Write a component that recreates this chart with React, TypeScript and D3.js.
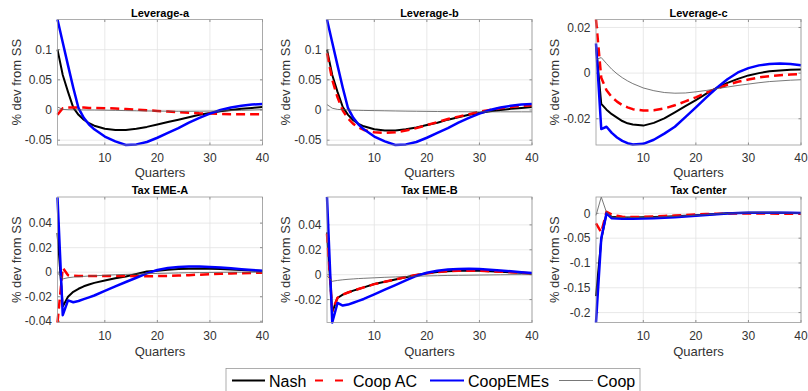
import React from "react";
import * as d3 from "d3";

const quarters = [1, 2, 3, 4, 5, 6, 7, 8, 10, 12, 14, 16, 18, 20, 22, 24, 26, 28, 30, 32, 34, 36, 38, 40];
const xTicks = [10, 20, 30, 40];
const seriesNames = ["Nash", "Coop AC", "CoopEMEs", "Coop"];
const panelTitles = ["Leverage-a", "Leverage-b", "Leverage-c", "Tax EME-A", "Tax EME-B", "Tax Center"];

// Leverage-a
const levANash = [0.100, 0.058, 0.030, 0.004, -0.008, -0.016, -0.022, -0.026, -0.031, -0.033, -0.033, -0.031, -0.028, -0.024, -0.020, -0.016, -0.012, -0.008, -0.005, -0.002, 0.000, 0.002, 0.0035, 0.005];
const levACoopAC = [-0.008, 0.003, 0.004, 0.004, 0.004, 0.004, 0.0035, 0.0035, 0.003, 0.0025, 0.0015, 0.0005, -0.0005, -0.0015, -0.0025, -0.0035, -0.0045, -0.0055, -0.006, -0.0065, -0.007, -0.007, -0.007, -0.007];
const levACoopEMEs = [0.150, 0.112, 0.074, 0.037, 0.003, -0.013, -0.024, -0.032, -0.044, -0.052, -0.058, -0.057, -0.053, -0.046, -0.038, -0.030, -0.021, -0.013, -0.006, 0.000, 0.004, 0.007, 0.009, 0.010];
const levACoop = [0.005, 0.001, 0.0005, 0.0003, 0.0002, 0.0001, 0, 0, -0.0003, -0.0006, -0.001, -0.0013, -0.0016, -0.0018, -0.002, -0.0021, -0.0021, -0.002, -0.0018, -0.0015, -0.001, -0.0005, 0.0, 0.0005];

// Leverage-b
const levBNash = [0.100, 0.058, 0.030, 0.005, -0.008, -0.017, -0.023, -0.027, -0.032, -0.034, -0.034, -0.032, -0.029, -0.025, -0.021, -0.016, -0.012, -0.008, -0.005, -0.002, 0.000, 0.002, 0.0035, 0.005];
const levBCoopAC = [0.094, 0.050, 0.021, -0.001, -0.014, -0.023, -0.029, -0.033, -0.037, -0.038, -0.037, -0.034, -0.030, -0.025, -0.020, -0.015, -0.011, -0.007, -0.003, 0.000, 0.003, 0.005, 0.007, 0.008];
const levBCoopEMEs = [0.150, 0.112, 0.074, 0.037, 0.003, -0.013, -0.024, -0.032, -0.044, -0.052, -0.058, -0.057, -0.053, -0.046, -0.038, -0.030, -0.021, -0.013, -0.006, 0.000, 0.004, 0.007, 0.009, 0.010];
const levBCoop = [0.009, 0.003, 0.001, 0.0005, 0, -0.0003, -0.0005, -0.0007, -0.001, -0.0013, -0.0016, -0.0019, -0.0021, -0.0023, -0.0025, -0.0027, -0.0028, -0.0029, -0.003, -0.003, -0.003, -0.003, -0.003, -0.003];

// Leverage-c
const levCNash = [0.012, -0.0135, -0.016, -0.018, -0.0195, -0.021, -0.022, -0.0225, -0.023, -0.0218, -0.0198, -0.0172, -0.0145, -0.0118, -0.009, -0.0065, -0.0043, -0.0025, -0.001, 0.0, 0.0008, 0.0012, 0.0015, 0.0016];
const levCCoopAC = [0.0235, -0.002, -0.0075, -0.0105, -0.0125, -0.014, -0.015, -0.0158, -0.0164, -0.0163, -0.0155, -0.0141, -0.0124, -0.0106, -0.0086, -0.0067, -0.0051, -0.0038, -0.0028, -0.0019, -0.0013, -0.0009, -0.0006, -0.0005];
const levCCoopEMEs = [0.013, -0.0245, -0.0235, -0.0262, -0.0282, -0.0297, -0.0307, -0.0313, -0.031, -0.0292, -0.0265, -0.0235, -0.0193, -0.015, -0.0106, -0.0064, -0.0027, 0.0003, 0.0022, 0.0034, 0.004, 0.0042, 0.004, 0.0035];
const levCCoop = [0.006, 0.0068, 0.0042, 0.0017, -0.0003, -0.002, -0.0034, -0.0046, -0.0065, -0.0077, -0.0085, -0.0088, -0.0087, -0.0082, -0.0076, -0.0068, -0.0061, -0.0054, -0.0048, -0.0042, -0.0037, -0.0034, -0.0031, -0.0029];

// Tax EME-A
const taxANash = [0.032, -0.028, -0.020, -0.016, -0.0135, -0.0115, -0.010, -0.0087, -0.0068, -0.005, -0.0035, -0.0015, 0.0005, 0.0012, 0.002, 0.0026, 0.0029, 0.003, 0.0029, 0.0026, 0.0022, 0.0018, 0.0014, 0.001];
const taxACoopAC = [-0.041, 0.0035, -0.0025, -0.0028, -0.003, -0.003, -0.003, -0.003, -0.003, -0.003, -0.003, -0.0032, -0.0033, -0.0032, -0.003, -0.0027, -0.0024, -0.002, -0.0017, -0.0013, -0.001, -0.0008, -0.0006, -0.0004];
const taxACoopEMEs = [0.061, -0.035, -0.023, -0.0245, -0.0235, -0.022, -0.0205, -0.019, -0.0152, -0.0115, -0.008, -0.0045, -0.001, 0.0018, 0.0034, 0.0042, 0.0046, 0.0046, 0.0043, 0.0038, 0.0032, 0.0025, 0.0018, 0.0012];
const taxACoop = [-0.0005, -0.0055, -0.0045, -0.004, -0.0037, -0.0034, -0.0031, -0.0029, -0.0025, -0.0021, -0.0018, -0.0015, -0.0012, -0.001, -0.0008, -0.0006, -0.0004, -0.0003, -0.0002, -0.0001, 0, 0, 0, 0];

// Tax EME-B
const taxBNash = [0.034, -0.030, -0.0187, -0.016, -0.0143, -0.0128, -0.0115, -0.0102, -0.0075, -0.0056, -0.0038, -0.002, -0.0003, 0.0012, 0.0022, 0.0028, 0.0031, 0.0032, 0.0031, 0.0028, 0.0024, 0.002, 0.0015, 0.001];
const taxBCoopAC = [0.033, -0.029, -0.0185, -0.016, -0.0143, -0.0128, -0.0115, -0.0102, -0.0076, -0.0057, -0.0038, -0.0019, -0.0002, 0.0012, 0.0022, 0.0028, 0.0031, 0.0032, 0.0031, 0.0028, 0.0024, 0.002, 0.0015, 0.001];
const taxBCoopEMEs = [0.0624, -0.0384, -0.0227, -0.0248, -0.024, -0.0225, -0.021, -0.0195, -0.0158, -0.012, -0.0083, -0.0046, -0.001, 0.0016, 0.0032, 0.0041, 0.0046, 0.0047, 0.0045, 0.004, 0.0034, 0.0027, 0.002, 0.0013];
const taxBCoop = [-0.001, -0.0053, -0.0046, -0.0041, -0.0037, -0.0034, -0.0031, -0.0029, -0.0025, -0.0021, -0.0018, -0.0015, -0.0012, -0.001, -0.0008, -0.0006, -0.0005, -0.0004, -0.0003, -0.0002, -0.0001, 0, 0, 0];

// Tax Center
const taxCNash = [-0.167, -0.053, 0.0, -0.007, -0.008, -0.0085, -0.0085, -0.0083, -0.008, -0.0075, -0.0068, -0.006, -0.005, -0.0038, -0.0025, -0.0012, 0.0, 0.0008, 0.0012, 0.0013, 0.0012, 0.001, 0.0008, 0.0006];
const taxCCoopAC = [-0.020, -0.038, 0.003, -0.002, -0.005, -0.007, -0.0075, -0.0075, -0.007, -0.0062, -0.0053, -0.0043, -0.0033, -0.0022, -0.0013, -0.0007, -0.0004, -0.0003, -0.0003, -0.0004, -0.0005, -0.0006, -0.0006, -0.0006];
const taxCCoopEMEs = [-0.22, -0.050, 0.0, -0.010, -0.0105, -0.011, -0.011, -0.0108, -0.0103, -0.0096, -0.0087, -0.0076, -0.0063, -0.0048, -0.0032, -0.0017, -0.0004, 0.0006, 0.0012, 0.0014, 0.0014, 0.0012, 0.001, 0.0008];
const taxCCoop = [-0.004, 0.033, 0.002, -0.007, -0.008, -0.0085, -0.0085, -0.0083, -0.008, -0.0075, -0.0068, -0.006, -0.005, -0.0038, -0.0025, -0.0012, 0.0, 0.0008, 0.0012, 0.0013, 0.0012, 0.001, 0.0008, 0.0006];

const yDomains = [
  [-0.058, 0.15],
  [-0.058, 0.15],
  [-0.0315, 0.0235],
  [-0.041, 0.0613],
  [-0.0384, 0.0624],
  [-0.22, 0.033],
];
const yTicks = [
  [-0.05, 0, 0.05, 0.1],
  [-0.05, 0, 0.05, 0.1],
  [-0.02, 0, 0.02],
  [-0.04, -0.02, 0, 0.02, 0.04],
  [-0.02, 0, 0.02, 0.04],
  [-0.2, -0.15, -0.1, -0.05, 0],
];

const panelSeries = [
  [levANash, levACoopAC, levACoopEMEs, levACoop],
  [levBNash, levBCoopAC, levBCoopEMEs, levBCoop],
  [levCNash, levCCoopAC, levCCoopEMEs, levCCoop],
  [taxANash, taxACoopAC, taxACoopEMEs, taxACoop],
  [taxBNash, taxBCoopAC, taxBCoopEMEs, taxBCoop],
  [taxCNash, taxCCoopAC, taxCCoopEMEs, taxCCoop],
];

const W = 808;
const H = 391;
const colLefts = [57.5, 327, 596];
const rowTops = [19.5, 197];
const plotW = 205;
const plotH = 125.5;
const FONT = "'Liberation Sans', Arial, Helvetica, sans-serif";

const styles = [
  { stroke: "#000000", width: 2, dash: undefined },
  { stroke: "#ff0000", width: 2.5, dash: "9,5" },
  { stroke: "#0000ff", width: 2.5, dash: undefined },
  { stroke: "#555555", width: 0.8, dash: undefined },
];
const drawOrder = [0, 1, 2, 3];

function fmt(v: number) {
  if (v === 0) return "0";
  return String(v);
}

function Panel({ idx }: { idx: number }) {
  const col = idx % 3;
  const row = Math.floor(idx / 3);
  const left = colLefts[col];
  const top = rowTops[row];
  const x = d3.scaleLinear().domain([1, 40]).range([left, left + plotW]);
  const y = d3.scaleLinear().domain(yDomains[idx]).range([top + plotH, top]);
  const line = d3
    .line<number>()
    .x((_, i) => x(quarters[i]))
    .y((d) => y(d));
  const series = panelSeries[idx];
  const clipId = `clip-${idx}`;
  return (
    <g>
      <defs>
        <clipPath id={clipId}>
          <rect x={left - 2} y={top - 2} width={plotW + 4} height={plotH + 4} />
        </clipPath>
      </defs>
      <rect x={left} y={top} width={plotW} height={plotH} fill="#ffffff" />
      {xTicks.map((t) => (
        <line key={"gx" + t} x1={x(t)} x2={x(t)} y1={top} y2={top + plotH} stroke="#e3e3e3" strokeWidth={0.8} />
      ))}
      {yTicks[idx].map((t) => (
        <line key={"gy" + t} x1={left} x2={left + plotW} y1={y(t)} y2={y(t)} stroke="#e3e3e3" strokeWidth={0.8} />
      ))}
      {xTicks.map((t) => (
        <g key={"tx" + t}>
          <line x1={x(t)} x2={x(t)} y1={top + plotH} y2={top + plotH - 2.5} stroke="#777" strokeWidth={0.8} />
          <line x1={x(t)} x2={x(t)} y1={top} y2={top + 2.5} stroke="#777" strokeWidth={0.8} />
          <text x={x(t)} y={row === 0 ? 161.5 : 339.5} textAnchor="middle" fontSize={12} fill="#333" fontFamily={FONT}>
            {t}
          </text>
        </g>
      ))}
      {yTicks[idx].map((t) => (
        <g key={"ty" + t}>
          <line x1={left} x2={left + 2.5} y1={y(t)} y2={y(t)} stroke="#777" strokeWidth={0.8} />
          <line x1={left + plotW} x2={left + plotW - 2.5} y1={y(t)} y2={y(t)} stroke="#777" strokeWidth={0.8} />
          <text x={left - 5.5} y={y(t)} dy="0.35em" textAnchor="end" fontSize={12} fill="#333" fontFamily={FONT}>
            {fmt(t)}
          </text>
        </g>
      ))}
      <g clipPath={`url(#${clipId})`}>
        {drawOrder.map((s) => (
          <path
            key={"s" + s}
            d={line(series[s]) || ""}
            fill="none"
            stroke={styles[s].stroke}
            strokeWidth={styles[s].width}
            strokeDasharray={styles[s].dash}
            strokeLinejoin="round"
          />
        ))}
      </g>
      <rect x={left} y={top} width={plotW} height={plotH} fill="none" stroke="#9a9a9a" strokeWidth={0.8} />
      <text x={left + plotW / 2} y={row === 0 ? 17 : 193.5} textAnchor="middle" fontSize={11} fontWeight="bold" fill="#000" fontFamily={FONT}>
        {panelTitles[idx]}
      </text>
      <text x={left + plotW / 2} y={row === 0 ? 177 : 355.5} textAnchor="middle" fontSize={13} fill="#333" fontFamily={FONT}>
        Quarters
      </text>
      <text
        transform={`translate(${left - 37},${top + plotH / 2}) rotate(-90)`}
        textAnchor="middle"
        fontSize={13}
        fill="#333"
        fontFamily={FONT}
      >
        % dev from SS
      </text>
    </g>
  );
}

const legendLayout = [
  { x1: 232, x2: 265, tx: 269 },
  { x1: 315, x2: 343, tx: 353 },
  { x1: 430, x2: 464, tx: 468 },
  { x1: 559, x2: 593, tx: 597 },
];

export default function App() {
  return (
    <svg
      width={W}
      height={H}
      viewBox={`0 0 ${W} ${H}`}
      style={{ position: "absolute", left: 0, top: 0, background: "#fff" }}
    >
      <rect x={0} y={0} width={W} height={H} fill="#ffffff" />
      {panelTitles.map((_, i) => (
        <Panel key={i} idx={i} />
      ))}
      <g>
        <rect x={226} y={368.5} width={414} height={40} fill="#fff" stroke="#9a9a9a" strokeWidth={0.8} />
        {seriesNames.map((name, i) => (
          <g key={name}>
            <line
              x1={legendLayout[i].x1}
              x2={legendLayout[i].x2}
              y1={380.5}
              y2={380.5}
              stroke={styles[i].stroke}
              strokeWidth={i === 3 ? 0.8 : 2}
              strokeDasharray={i === 1 ? "8,12" : undefined}
            />
            <text x={legendLayout[i].tx} y={386.5} fontSize={16} fill="#000" fontFamily={FONT}>
              {name}
            </text>
          </g>
        ))}
      </g>
    </svg>
  );
}
